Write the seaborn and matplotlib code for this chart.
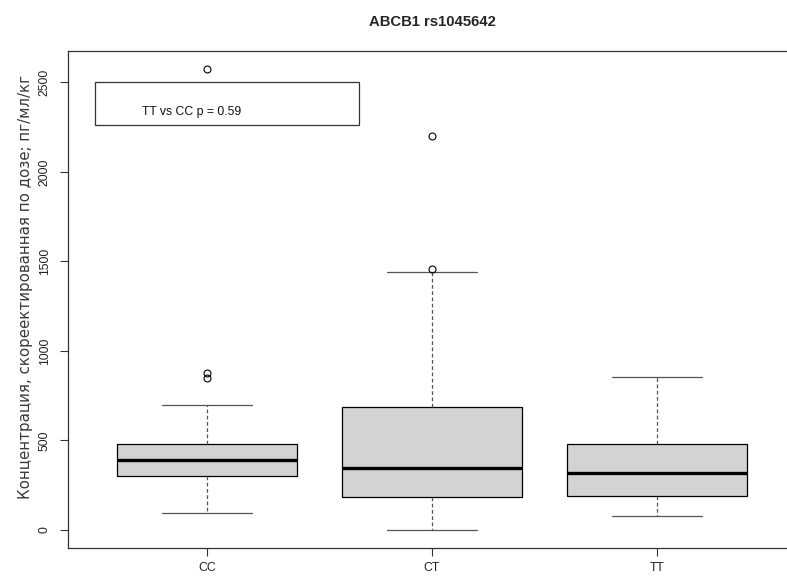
import matplotlib
matplotlib.use("Agg")
import matplotlib.pyplot as plt
import numpy as np
import pandas as pd
import seaborn as sns
from matplotlib.patches import Rectangle

# ---- data ----
genotypes = ["CC", "CT", "TT"]
cc_values = [95, 150, 210, 260, 301, 330, 355, 375, 391, 410, 435, 460, 480, 698, 848, 875, 2573]
ct_values = [2, 70, 130, 186, 230, 290, 344, 420, 540, 688, 1439, 1456, 2202]
tt_values = [80, 140, 190, 250, 318, 400, 480, 640, 853]
y_ticks = [0, 500, 1000, 1500, 2000, 2500]
title = "ABCB1 rs1045642"
y_label = "Концентрация, скореектированная по дозе; пг/мл/кг"
legend_text = "TT vs CC p = 0.59"

df = pd.DataFrame({
    "genotype": ["CC"] * len(cc_values) + ["CT"] * len(ct_values) + ["TT"] * len(tt_values),
    "value": cc_values + ct_values + tt_values,
})

sns.set_style("white")
plt.rcParams["font.family"] = ["Liberation Sans", "DejaVu Sans"]

W, H = 787, 576
fig = plt.figure(figsize=(W / 100, H / 100), dpi=100)
ax = fig.add_axes([67.5 / W, (H - 548) / H, 729 / W, 497 / H])

edge = "#333333"
whisk = "#555555"
sns.boxplot(
    data=df, x="genotype", y="value", order=genotypes, ax=ax,
    color="#D3D3D3", saturation=1, width=0.8, linecolor="black", linewidth=0.9,
    whis=1.5,
    medianprops=dict(color="black", linewidth=2.4),
    whiskerprops=dict(color=whisk, linestyle=(0, (3, 2)), linewidth=0.9),
    capprops=dict(color=whisk, linewidth=0.9),
    flierprops=dict(marker="o", markerfacecolor="none", markeredgecolor="black",
                    markersize=5, markeredgewidth=0.8),
    capwidths=0.4,
)

ax.set_xlim(-0.62, 2.62)
ax.set_ylim(-100.5, 2674.8)
ax.set_yticks(y_ticks)
ax.set_xlabel("")
ax.set_ylabel(y_label, fontsize=10, family=["DejaVu Sans"], color="#3a3a3a")
ax.yaxis.label.set_va("center")
ax.yaxis.set_label_coords((26 - 67.5) / 729, 0.525)

ax.tick_params(axis="both", direction="out", length=5.5, width=0.8, color=edge,
               labelsize=8.8, labelcolor="#222222", left=True, bottom=True)
ax.tick_params(axis="y", pad=6.5)
ax.tick_params(axis="x", pad=4.5)
for lab in ax.get_yticklabels():
    lab.set_rotation(90)
    lab.set_va("center")

for sp in ax.spines.values():
    sp.set_visible(True)
    sp.set_color(edge)
    sp.set_linewidth(0.9)

ax.set_title(title, fontsize=10.7, fontweight="bold", pad=18.2)

ax.add_patch(Rectangle((-0.498, 2261.6), 1.174, 238.4, fill=False,
                       edgecolor=edge, linewidth=0.9))
ax.text(-0.29, 2335, legend_text, fontsize=8.8, va="center", ha="left", color="#111111")

# fit y-label length to the reference (~425 px long)
fig.canvas.draw()
r = fig.canvas.get_renderer()
h = ax.yaxis.label.get_window_extent(r).height
ax.yaxis.label.set_fontsize(10 * 425 / h)

fig.savefig("out.png", dpi=100)
